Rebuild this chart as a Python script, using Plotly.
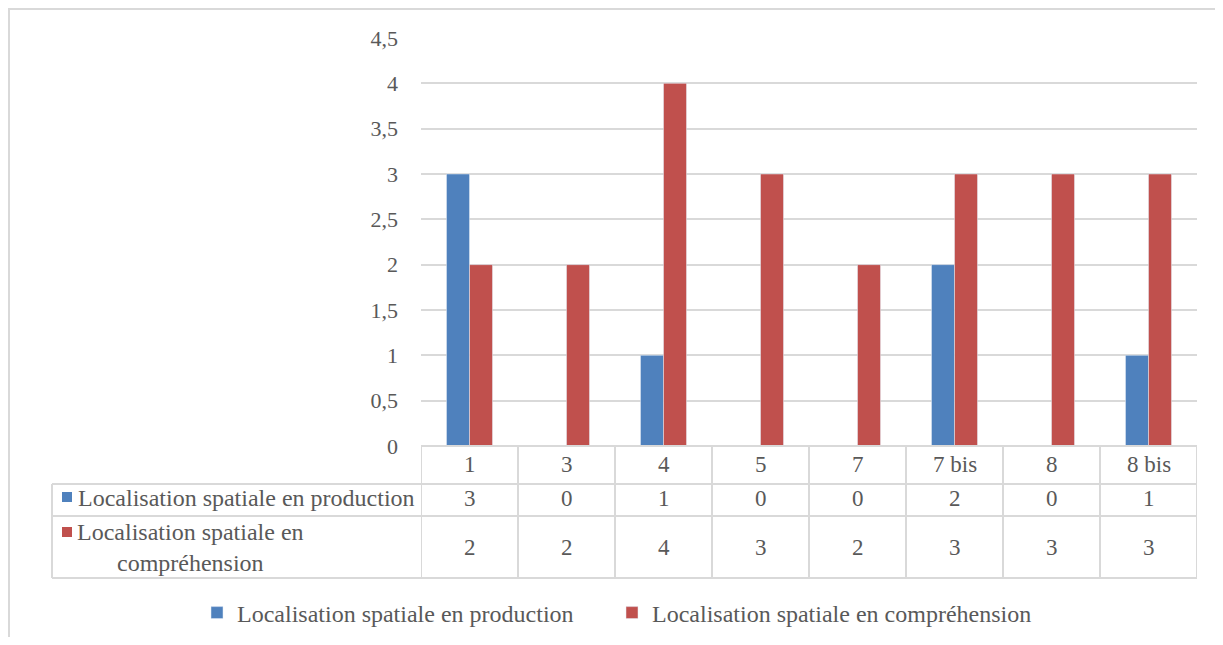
import plotly.graph_objects as go

categories = ["1", "3", "4", "5", "7", "7 bis", "8", "8 bis"]
production = [3, 0, 1, 0, 0, 2, 0, 1]
comprehension = [2, 2, 4, 3, 2, 3, 3, 3]
name_prod = "Localisation spatiale en production"
name_comp = "Localisation spatiale en compréhension"

W, H = 1207, 629  # page body has an 8px margin
BLUE = "#4F81BD"
RED = "#C0504D"
TXT = "#595959"
LINE = "#D9D9D9"
FONT = "Liberation Serif"


def px(x):
    return (x - 8) / W


def py(y):
    return (H - (y - 8)) / H


fig = go.Figure()
fig.add_trace(go.Bar(x=categories, y=production, name=name_prod, marker_color=BLUE,
                     legend="legend", showlegend=True))
fig.add_trace(go.Bar(x=categories, y=comprehension, name=name_comp, marker_color=RED,
                     legend="legend2", showlegend=True))

# data table under the plot
rows = [446, 484, 516, 578]
shapes = []
# chart border
shapes.append(dict(type="rect", xref="paper", yref="paper", x0=px(9), x1=1.02,
                   y0=-0.05, y1=py(9), line=dict(color=LINE, width=2)))
shapes.append(dict(type="line", xref="x", yref="paper", x0=-0.5, x1=len(categories) - 0.5,
                   y0=py(rows[0]), y1=py(rows[0]), line=dict(color=LINE, width=2)))
for r in rows[1:]:
    shapes.append(dict(type="line", xref="paper", yref="paper", x0=px(52), x1=px(1197),
                       y0=py(r), y1=py(r), line=dict(color=LINE, width=2)))
for i in range(len(categories) + 1):
    shapes.append(dict(type="line", xref="x", yref="paper", x0=i - 0.5, x1=i - 0.5,
                       y0=py(rows[0]), y1=py(rows[3]), line=dict(color=LINE, width=2)))
shapes.append(dict(type="line", xref="paper", yref="paper", x0=px(52), x1=px(52),
                   y0=py(rows[1]), y1=py(rows[3]), line=dict(color=LINE, width=2)))
# legend keys in table
shapes.append(dict(type="rect", xref="paper", yref="paper", x0=px(62), x1=px(72),
                   y0=py(502), y1=py(492), fillcolor=BLUE, line_width=0))
shapes.append(dict(type="rect", xref="paper", yref="paper", x0=px(62), x1=px(72),
                   y0=py(537), y1=py(527), fillcolor=RED, line_width=0))

ann = []
nf = dict(family=FONT, size=23, color=TXT)
lf = dict(family=FONT, size=24, color=TXT)
for i, c in enumerate(categories):
    ann.append(dict(x=i, y=py(464), xref="x", yref="paper", text=c, showarrow=False,
                    yanchor="middle", font=nf))
    ann.append(dict(x=i, y=py(498), xref="x", yref="paper", text=str(production[i]),
                    showarrow=False, yanchor="middle", font=nf))
    ann.append(dict(x=i, y=py(547), xref="x", yref="paper", text=str(comprehension[i]),
                    showarrow=False, yanchor="middle", font=nf))
ann.append(dict(x=px(76), y=py(498), xref="paper", yref="paper", text=name_prod,
                xanchor="left", yanchor="middle", showarrow=False, font=lf))
ann.append(dict(x=px(190), y=py(547), xref="paper", yref="paper",
                text="Localisation spatiale en<br>compréhension", align="center",
                xanchor="center", yanchor="middle", showarrow=False, font=lf))

leg = dict(orientation="h", xanchor="left", y=py(613), yanchor="middle",
           font=lf, itemwidth=30)
fig.update_layout(
    width=W, height=H,
    margin=dict(l=0, r=0, t=0, b=0, autoexpand=False),
    paper_bgcolor="white", plot_bgcolor="white",
    barmode="group", bargap=0.526, bargroupgap=0,
    separators=", ",
    showlegend=True,
    font=dict(family=FONT, size=22, color=TXT),
    shapes=shapes, annotations=ann,
    legend=dict(leg, x=px(197)),
    legend2=dict(leg, x=px(612)),
)
fig.update_xaxes(domain=[px(421), px(1197)], range=[-0.5, len(categories) - 0.5],
                 showticklabels=False, showgrid=False, showline=False, zeroline=False)
fig.update_yaxes(domain=[py(446), py(38)], range=[0, 4.5], dtick=0.5,
                 gridcolor=LINE, gridwidth=1.5, zeroline=False, showline=False,
                 ticklabelstandoff=22, tickfont=dict(family=FONT, size=22, color=TXT))

fig.write_html("out.html")
